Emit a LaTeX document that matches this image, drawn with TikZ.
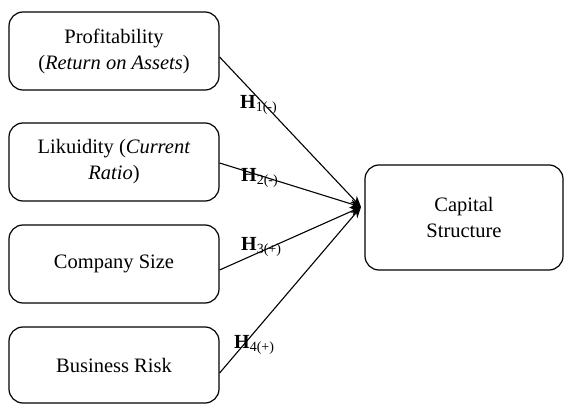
\documentclass[tikz,border=0pt]{standalone}
\usepackage{fontspec}
\setmainfont{Liberation Serif}
\usetikzlibrary{positioning, arrows, arrows.meta}

\begin{document}
\begin{tikzpicture}[x=1pt, y=-1pt, ->, >={Stealth[length=11pt, width=9pt]},
    varbox/.style={draw, line width=1.2pt, rounded corners=14pt, align=center,
      minimum width=210pt, minimum height=78pt, inner sep=2pt,
      font=\fontsize{20.5}{26}\selectfont},
    hyp/.style={anchor=west, inner sep=0pt, font=\fontsize{20}{22}\selectfont}]
  \useasboundingbox (0,0) rectangle (565,406);
  % independent variables
  \node[varbox] (roa) at (114,51) {Profitability\\(\textit{Return on Assets})};
  \node[varbox] (cr) at (114,162) {Likuidity (\textit{Current}\\\textit{Ratio})};
  \node[varbox] (size) at (114,264) {Company Size};
  \node[varbox, minimum height=76pt] (risk) at (114,365) {Business Risk};
  % dependent variable
  \node[varbox, minimum width=198pt, minimum height=105pt] (cs) at (464,217.5) {Capital\\Structure};
  \coordinate (tip) at (361,207);
  \draw[line width=1.1pt] ([yshift=-6pt]roa.east) -- (tip);
  \draw[line width=1.1pt] ([yshift=-1pt]cr.east) -- (tip);
  \draw[line width=1.1pt] ([yshift=-6pt]size.east) -- (tip);
  \draw[line width=1.1pt] ([yshift=-8pt]risk.east) -- (tip);
  \node[hyp] (h1) at (240,105) {\textbf{H}\textsubscript{1(-)}};
  \node[hyp] (h2) at (241,178) {\textbf{H}\textsubscript{2(-)}};
  \node[hyp] (h3) at (241,247) {\textbf{H}\textsubscript{3(+)}};
  \node[hyp] (h4) at (234,345) {\textbf{H}\textsubscript{4(+)}};
\end{tikzpicture}
\end{document}
